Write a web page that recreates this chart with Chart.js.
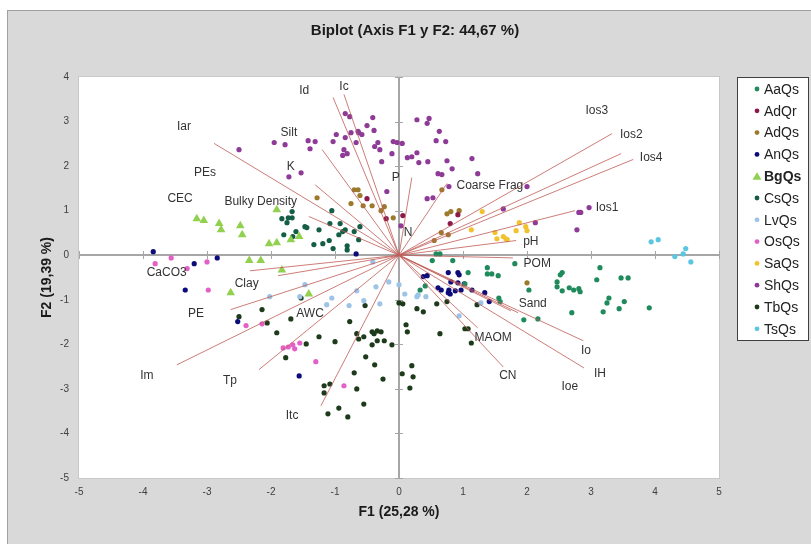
<!DOCTYPE html>
<html>
<head>
<meta charset="utf-8">
<title>Biplot F1 F2</title>
<script src="https://cdn.jsdelivr.net/npm/chart.js@4.4.1/dist/chart.umd.min.js"></script>
<style>
  body { margin: 0; background: #fff; }
  canvas { display: block; }
</style>
</head>
<body>
<canvas id="biplot" width="811" height="544"></canvas>
<script>
const aaQs = [[0.58,0.03],[0.64,0.03],[0.52,-0.12],[0.84,-0.12],[1.81,-0.19],[1.38,-0.28],[3.14,-0.28],[1.38,-0.42],[1.45,-0.42],[1.55,-0.46],[2.55,-0.39],[2.52,-0.44],[3.47,-0.51],[3.58,-0.51],[3.09,-0.55],[2.47,-0.60],[2.47,-0.71],[2.55,-0.80],[2.66,-0.73],[2.73,-0.78],[2.81,-0.75],[2.83,-0.82],[2.03,-0.78],[0.41,-0.69],[3.28,-0.96],[3.25,-1.07],[3.19,-1.27],[3.52,-1.04],[3.44,-1.20],[3.91,-1.18],[2.70,-1.29],[1.95,-1.45],[2.17,-1.43],[1.56,-0.96],[1.58,-1.04],[1.03,-0.64],[0.33,-0.78],[1.08,-0.39]];
const adQr = [[-0.50,1.27],[-0.20,0.82],[0.80,0.71],[0.06,0.89],[0.92,0.91]];
const adQs = [[-0.70,1.47],[-0.64,1.47],[-0.61,1.34],[-0.75,1.16],[-0.56,1.11],[-0.42,1.11],[-0.28,1.00],[-0.23,1.09],[-1.28,1.29],[-0.09,0.84],[0.67,1.47],[0.75,0.93],[0.81,0.98],[0.94,1.00],[0.77,0.46],[0.66,0.51],[0.55,0.33],[2.00,-0.62]];
const anQs = [[-3.84,0.08],[-2.84,-0.06],[-3.20,-0.19],[-3.34,-0.78],[-2.52,-1.49],[-1.56,-2.71],[-0.67,0.03],[0.38,-0.48],[0.44,-0.46],[0.77,-0.39],[0.92,-0.39],[0.94,-0.44],[0.81,-0.60],[0.92,-0.62],[1.02,-0.64],[0.61,-0.73],[0.66,-0.78],[0.78,-0.78],[0.80,-0.87],[0.88,-0.80],[0.97,-0.78],[1.14,-0.78],[1.34,-0.84],[1.41,-1.04],[0.77,-0.84]];
const bgQs = [[-3.16,0.82],[-3.05,0.78],[-2.81,0.71],[-2.78,0.57],[-2.48,0.66],[-2.45,0.46],[-2.03,0.26],[-1.91,0.28],[-1.69,0.35],[-1.56,0.42],[-1.91,1.02],[-2.34,-0.12],[-2.16,-0.12],[-1.83,-0.33],[-2.63,-0.84],[-1.41,-0.87]];
const csQs = [[-1.67,0.98],[-1.83,0.82],[-1.73,0.84],[-1.67,0.84],[-1.75,0.73],[-1.80,0.46],[-1.61,0.53],[-1.66,0.42],[-1.47,0.64],[-1.44,0.62],[-1.25,0.57],[-1.08,0.71],[-1.05,1.00],[-1.33,0.24],[-1.19,0.26],[-1.09,0.33],[-1.03,0.15],[-0.81,0.21],[-0.81,0.12],[-0.94,0.46],[-0.88,0.53],[-0.84,0.57],[-0.70,0.53],[-0.61,0.64],[-0.63,0.35],[-0.92,0.71]];
const lvQs = [[-0.41,-0.15],[-1.47,-0.66],[-2.02,-0.93],[-1.55,-0.93],[-0.36,-0.71],[-0.16,-0.60],[0.00,-0.66],[0.09,-0.87],[0.30,-0.89],[0.42,-0.93],[-1.05,-0.96],[-1.13,-1.11],[-0.66,-0.80],[-0.55,-1.02],[-0.30,-1.09],[-0.78,-1.13],[0.28,-0.93],[1.28,-1.07],[0.94,-1.36]];
const osQs = [[-3.81,-0.19],[-3.56,-0.06],[-3.31,-0.30],[-3.00,-0.15],[-2.98,-0.78],[-2.39,-1.58],[-2.14,-1.54],[-1.81,-2.08],[-1.73,-2.06],[-1.66,-2.01],[-1.63,-2.10],[-1.55,-1.97],[-1.30,-2.39],[-0.86,-2.93]];
const saQs = [[1.30,0.98],[1.13,0.57],[1.88,0.73],[1.98,0.64],[2.00,0.55],[1.83,0.55],[1.50,0.51],[1.53,0.37],[1.63,0.42],[1.67,0.37],[1.69,0.35]];
const shQs = [[-0.84,3.18],[-0.77,3.11],[-0.41,3.09],[0.28,3.04],[0.47,3.07],[0.44,2.96],[-0.50,2.91],[-0.39,2.80],[-0.64,2.78],[-0.63,2.75],[-0.58,2.71],[-0.75,2.75],[0.63,2.78],[-0.98,2.71],[-0.84,2.64],[-1.95,2.53],[-1.78,2.48],[-1.42,2.57],[-1.31,2.55],[-1.39,2.39],[-1.03,2.55],[-0.67,2.53],[-0.33,2.53],[-0.09,2.55],[-0.03,2.53],[0.05,2.51],[0.58,2.57],[0.73,2.55],[-0.38,2.44],[-0.30,2.37],[-0.86,2.37],[-0.81,2.28],[-0.88,2.24],[-0.11,2.28],[0.28,2.30],[0.20,2.21],[0.13,2.19],[0.45,2.10],[0.31,2.08],[-0.27,2.10],[0.75,2.12],[0.83,1.94],[0.61,1.83],[0.67,1.81],[-1.53,1.85],[-1.72,1.76],[-0.19,1.43],[0.78,1.54],[0.53,1.29],[0.44,1.27],[1.14,2.17],[1.23,1.83],[2.00,1.54],[1.63,1.04],[2.13,0.73],[2.81,0.96],[2.84,0.96],[2.97,1.07],[2.78,0.57],[-2.50,2.37],[0.03,0.66]];
const tbQs = [[-2.50,-1.38],[-2.14,-1.22],[-2.06,-1.52],[-1.91,-1.74],[-1.69,-1.43],[-1.53,-0.96],[-1.45,-1.99],[-1.77,-2.30],[-1.25,-1.83],[-1.00,-1.94],[-0.53,-1.13],[-0.77,-1.49],[-0.66,-1.76],[-0.63,-1.88],[-0.55,-1.83],[-0.42,-1.72],[-0.34,-1.70],[-0.28,-1.72],[-0.39,-1.76],[-0.42,-2.01],[-0.34,-1.92],[-0.23,-1.92],[-0.11,-2.01],[-0.52,-2.28],[-0.38,-2.46],[-0.70,-2.64],[-0.25,-2.78],[-1.08,-2.89],[-1.17,-2.93],[-1.17,-3.09],[-0.66,-3.00],[-0.55,-3.34],[-0.94,-3.43],[-1.11,-3.56],[-0.80,-3.63],[0.00,-1.07],[0.06,-1.09],[0.11,-1.56],[0.13,-1.72],[0.20,-2.48],[0.05,-2.66],[0.22,-2.73],[0.17,-2.98],[0.28,-1.20],[0.38,-1.27],[0.59,-1.09],[0.75,-1.04],[0.64,-1.76],[1.03,-1.65],[1.08,-1.65],[1.13,-1.97],[1.22,-1.11]];
const tsQs = [[3.94,0.30],[4.05,0.35],[4.48,0.15],[4.44,0.03],[4.31,-0.03],[4.56,-0.15]];

const groupNames = ["AaQs","AdQr","AdQs","AnQs","BgQs","CsQs","LvQs","OsQs","SaQs","ShQs","TbQs","TsQs"];
const groupPoints = [aaQs, adQr, adQs, anQs, bgQs, csQs, lvQs, osQs, saQs, shQs, tbQs, tsQs];
const groupColors = ["#1f8a5b","#8b1a4b","#9c7a2c","#0b0b7a","#92d050","#135e45","#9dc3e6","#e45fc6","#f2c12e","#8e3a97","#1d3b1a","#5bc6e0"];

// Variable loadings (vector tips) and where their names sit
const vectorTips = [[-2.89,2.51],[-1.20,2.37],[-1.31,1.58],[-1.41,0.87],[-1.03,3.54],[-0.86,3.61],[0.20,1.74],[0.75,1.61],[3.33,2.73],[3.47,2.28],[3.66,2.15],[2.75,1.00],[1.83,0.33],[1.78,-0.06],[1.86,-1.29],[1.75,-1.25],[2.88,-1.92],[2.89,-2.53],[1.23,-1.63],[1.63,-2.51],[-2.33,-0.35],[-1.89,-0.46],[-2.63,-1.22],[-3.47,-2.46],[-2.19,-2.57],[-1.22,-3.38]];
const varNames = ["Id","Ic","Iar","Silt","PEs","K","CEC","Bulky Density","P","N","Coarse Frag","Ios3","Ios2","Ios4","Ios1","pH","POM","Sand","MAOM","Io","IH","Ioe","CN","CaCO3","Clay","PE","AWC","Im","Tp","Itc"];
const varLabelX = [-1.48,-0.86,-3.36,-1.72,-3.03,-1.69,-3.42,-2.16,-0.05,0.14,1.42,3.09,3.63,3.94,3.25,2.06,2.16,2.09,1.47,2.92,3.14,2.67,1.70,-3.63,-2.38,-3.17,-1.39,-3.94,-2.64,-1.67];
const varLabelY = [3.70,3.79,2.89,2.75,1.85,1.99,1.27,1.20,1.74,0.51,1.56,3.25,2.71,2.19,1.07,0.30,-0.19,-1.09,-1.85,-2.15,-2.66,-2.96,-2.71,-0.39,-0.64,-1.31,-1.31,-2.71,-2.82,-3.61];

const xTicks = [-5,-4,-3,-2,-1,0,1,2,3,4,5];
const yTicks = [-5,-4,-3,-2,-1,0,1,2,3,4];

const FONT = "'Liberation Sans', Arial, sans-serif";
const NARROW = "'Liberation Sans Narrow', 'Liberation Sans', Arial, sans-serif";

const datasets = [];
vectorTips.forEach(t => {
    datasets.push({
        type: 'line',
        data: [{x: 0, y: 0}, {x: t[0], y: t[1]}],
        borderColor: 'rgba(192,92,86,0.8)',
        borderWidth: 1,
        pointRadius: 0,
        fill: false,
        order: 0,
        isVector: true
    });
});
groupNames.forEach((name, i) => {
    datasets.push({
        type: 'scatter',
        label: name,
        data: groupPoints[i].map(p => ({x: p[0], y: p[1]})),
        backgroundColor: groupColors[i],
        borderColor: groupColors[i],
        borderWidth: 0,
        pointStyle: name === "BgQs" ? 'triangle' : 'circle',
        pointRadius: name === "BgQs" ? 5 : 2.6,
        order: 1
    });
});

// gray frame, white plot area
const backdrop = {
    id: 'backdrop',
    beforeDraw(chart) {
        const ctx = chart.ctx, a = chart.chartArea;
        ctx.save();
        ctx.fillStyle = '#ffffff';
        ctx.fillRect(0, 0, chart.width, chart.height);
        ctx.fillStyle = '#d9d9d9';
        ctx.fillRect(7, 10, chart.width - 7, chart.height - 10);
        ctx.strokeStyle = '#a0a0a0';
        ctx.lineWidth = 1;
        ctx.strokeRect(7.5, 10.5, chart.width, chart.height);
        ctx.fillStyle = '#ffffff';
        ctx.fillRect(a.left, a.top, a.right - a.left, a.bottom - a.top);
        ctx.strokeStyle = '#c8c8c8';
        ctx.strokeRect(a.left - 0.5, a.top - 0.5, a.right - a.left + 1, a.bottom - a.top + 1);
        ctx.restore();
    },
    beforeDatasetsDraw(chart) {
        const ctx = chart.ctx, xs = chart.scales.x, ys = chart.scales.y, a = chart.chartArea;
        const x0 = Math.round(xs.getPixelForValue(0)), y0 = Math.round(ys.getPixelForValue(0));
        ctx.save();
        ctx.strokeStyle = '#a6a6a6';
        ctx.lineWidth = 2;
        ctx.beginPath();
        ctx.moveTo(a.left, y0); ctx.lineTo(a.right, y0);
        ctx.moveTo(x0, a.top); ctx.lineTo(x0, a.bottom);
        ctx.stroke();
        ctx.lineWidth = 1;
        ctx.beginPath();
        yTicks.forEach(v => {
            const py = Math.round(ys.getPixelForValue(v)) + 0.5;
            ctx.moveTo(x0 - 4, py); ctx.lineTo(x0 + 4, py);
        });
        xTicks.forEach(v => {
            const px = Math.round(xs.getPixelForValue(v)) + 0.5;
            ctx.moveTo(px, y0 - 4); ctx.lineTo(px, y0 + 4);
        });
        ctx.stroke();
        ctx.restore();
    },
    afterDraw(chart) {
        const ctx = chart.ctx, xs = chart.scales.x, ys = chart.scales.y, a = chart.chartArea;
        ctx.save();
        // variable names
        ctx.fillStyle = '#333333';
        ctx.font = '12px ' + FONT;
        ctx.textAlign = 'center';
        ctx.textBaseline = 'middle';
        varNames.forEach((n, i) => {
            ctx.fillText(n, xs.getPixelForValue(varLabelX[i]), ys.getPixelForValue(varLabelY[i]));
        });
        // title and axis titles
        ctx.fillStyle = '#1a1a1a';
        ctx.font = 'bold 15px ' + NARROW;
        ctx.fillText('Biplot (Axis F1 y F2: 44,67 %)', 415, 31);
        ctx.font = 'bold 14px ' + NARROW;
        ctx.fillText('F1 (25,28 %)', (a.left + a.right) / 2, 512);
        ctx.translate(47, (a.top + a.bottom) / 2);
        ctx.rotate(-Math.PI / 2);
        ctx.fillText('F2 (19,39 %)', 0, 0);
        ctx.restore();

        // legend box
        ctx.save();
        ctx.fillStyle = '#ffffff';
        ctx.fillRect(737, 77, 72, 264);
        ctx.strokeStyle = '#404040';
        ctx.lineWidth = 1;
        ctx.strokeRect(737.5, 77.5, 71, 263);
        ctx.textAlign = 'left';
        ctx.textBaseline = 'middle';
        chart.data.datasets.filter(d => !d.isVector).forEach((d, i) => {
            const y = 89 + i * 21.8;
            ctx.fillStyle = d.backgroundColor;
            ctx.beginPath();
            if (d.pointStyle === 'triangle') {
                ctx.moveTo(757, y - 4); ctx.lineTo(761.5, y + 3.5); ctx.lineTo(752.5, y + 3.5); ctx.closePath();
            } else {
                ctx.arc(757, y, 2.4, 0, Math.PI * 2);
            }
            ctx.fill();
            ctx.fillStyle = '#222222';
            ctx.font = (d.label === 'BgQs' ? 'bold ' : '') + '14px ' + FONT;
            ctx.fillText(d.label, 764, y + 1);
        });
        ctx.restore();
    }
};

new Chart(document.getElementById('biplot'), {
    type: 'scatter',
    data: { datasets: datasets },
    options: {
        responsive: false,
        animation: false,
        devicePixelRatio: 1,
        layout: { padding: { top: 77, right: 92, left: 0, bottom: 0 } },
        plugins: {
            legend: { display: false },
            title: { display: false },
            tooltip: { enabled: false }
        },
        scales: {
            x: {
                type: 'linear',
                min: -5, max: 5,
                afterFit: s => { s.height = 66; },
                afterBuildTicks: s => { s.ticks = xTicks.map(v => ({value: v})); },
                grid: { display: false, drawTicks: false },
                border: { display: false },
                ticks: { color: '#404040', font: { size: 10, family: NARROW }, padding: 8 }
            },
            y: {
                type: 'linear',
                min: -5, max: 4,
                afterFit: s => { s.width = 79; },
                afterBuildTicks: s => { s.ticks = yTicks.map(v => ({value: v})); },
                grid: { display: false, drawTicks: false },
                border: { display: false },
                ticks: { color: '#404040', font: { size: 10, family: NARROW }, padding: 10 }
            }
        }
    },
    plugins: [backdrop]
});
</script>
</body>
</html>
